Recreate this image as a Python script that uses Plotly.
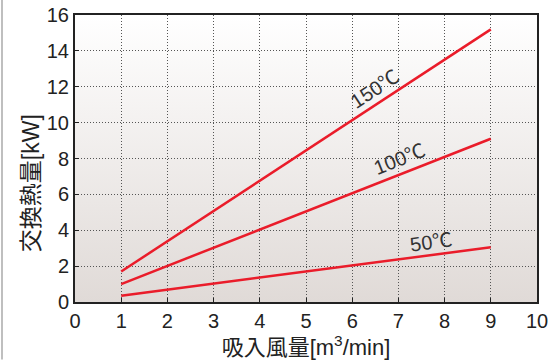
import base64
import plotly.graph_objects as go

# air flow [m3/min] and heat exchange [kW]
flow = [1, 9]
q_150 = [1.7, 15.2]
q_100 = [1.0, 9.1]
q_50 = [0.35, 3.05]
labels = ['150℃', '100℃', '50℃']
label_x = [6.48, 7.02, 7.7]
label_y = [11.9, 7.95, 3.35]
label_angle = [-33, -21.5, -7.5]

font = 'Liberation Sans, Noto Sans CJK JP, sans-serif'
red = '#ea1c2a'

# vertical gradient used as plot background
svg = ('<svg xmlns="http://www.w3.org/2000/svg" width="100" height="100" preserveAspectRatio="none">'
       '<defs><linearGradient id="g" x1="0" y1="0" x2="0" y2="1">'
       '<stop offset="0" stop-color="#ffffff"/><stop offset="1" stop-color="#e0dad7"/>'
       '</linearGradient></defs><rect width="100" height="100" fill="url(#g)"/></svg>')
bg_src = 'data:image/svg+xml;base64,' + base64.b64encode(svg.encode()).decode()

fig = go.Figure()

for q in [q_150, q_100, q_50]:
    fig.add_trace(go.Scatter(x=flow, y=q, mode='lines', showlegend=False,
                             line=dict(color=red, width=2.5)))

for t, x, y, a in zip(labels, label_x, label_y, label_angle):
    fig.add_annotation(x=x, y=y, text=t, textangle=a, showarrow=False,
                       font=dict(family=font, size=20, color='#333'))

# y title placed a bit lower than the axis centre, as in the original
fig.add_annotation(xref='paper', yref='paper', x=-0.127, y=0.415, text='交換熱量[kW]',
                   textangle=-90, showarrow=False,
                   font=dict(family=font, size=23, color='#222'))

fig.add_layout_image(source=bg_src, xref='paper', yref='paper', x=0, y=1,
                     sizex=1, sizey=1, sizing='stretch', layer='below',
                     xanchor='left', yanchor='top')

# left frame line of the figure
fig.add_shape(type='line', xref='paper', yref='paper', x0=-0.158, x1=-0.158, y0=-0.2, y1=1.06,
              line=dict(color='#aaa', width=1.5))

axis_common = dict(showgrid=True, gridcolor='#555', griddash='1px,2px', gridwidth=1,
                   showline=True, linecolor='#222', linewidth=2, mirror=True,
                   ticks='inside', ticklen=4, tickcolor='#222', zeroline=False,
                   automargin=False,
                   tickfont=dict(family=font, size=20, color='#222'))

fig.update_xaxes(range=[0, 10], dtick=1, **axis_common,
                 title=dict(text='吸入風量[m<sup>3</sup>/min]', standoff=6,
                            font=dict(family=font, size=22, color='#222')))
fig.update_yaxes(range=[0, 16], dtick=2, **axis_common)

fig.update_layout(width=550, height=360, margin=dict(l=75, r=13, t=15, b=58),
                  paper_bgcolor='white', plot_bgcolor='rgba(0,0,0,0)')

fig.write_html('out.html', config={'displayModeBar': False},
               post_script="document.body.style.margin='0';")
